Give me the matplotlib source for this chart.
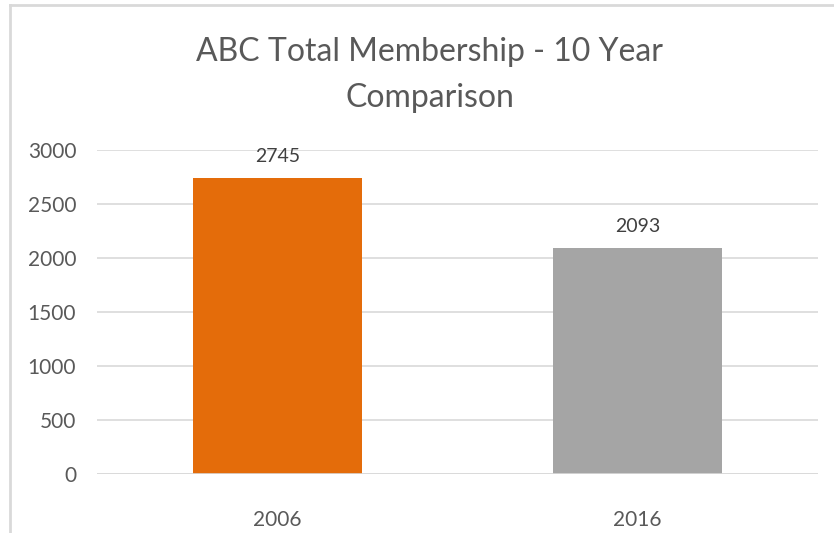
import matplotlib
matplotlib.use("Agg")
import matplotlib.pyplot as plt
from matplotlib.lines import Line2D

categories = ["2006", "2016"]
values = [2745, 2093]
colors = ["#E46C0A", "#A5A5A5"]
yticks = [0, 500, 1000, 1500, 2000, 2500, 3000]
title = "ABC Total Membership - 10 Year\nComparison"

plt.rcParams['font.family'] = ['Lato', 'DejaVu Sans']

fig = plt.figure(figsize=(8.34, 5.33), dpi=100)
ax = fig.add_axes([97/834, 59/533, 721/834, 324/533])

x = range(len(categories))
bars = ax.bar(x, values, width=0.47, color=colors, zorder=2)
ax.set_xlim(-0.5, len(categories) - 0.5)
ax.set_ylim(0, 3000)
ax.set_yticks(yticks)
ax.set_xticks(list(x))
ax.set_xticklabels(categories)
ax.grid(axis='y', color='#D9D9D9', linewidth=1.2, zorder=0)
ax.axhline(0, color='#D9D9D9', linewidth=1.2, zorder=3)
for s in ax.spines.values():
    s.set_visible(False)
ax.tick_params(axis='both', length=0, labelsize=15, labelcolor='#595959')
ax.tick_params(axis='y', pad=15)
ax.tick_params(axis='x', pad=26)

for xi, v in zip(x, values):
    ax.annotate(str(v), (xi, v), xytext=(0, 9), textcoords='offset points',
                ha='center', va='bottom', fontsize=14, color='#404040')

fig.text(430/834, 1 - 75/533, title, ha='center', va='center', fontsize=23,
         color='#595959', linespacing=1.7)

# outer chart frame (left and top edges)
fig.add_artist(Line2D([9.5/834, 9.5/834], [0, 1 - 5/533], transform=fig.transFigure,
                      color='#D9D9D9', linewidth=2))
fig.add_artist(Line2D([9.5/834, 1], [1 - 5/533, 1 - 5/533], transform=fig.transFigure,
                      color='#D9D9D9', linewidth=2))

fig.savefig("out.png", dpi=100)
